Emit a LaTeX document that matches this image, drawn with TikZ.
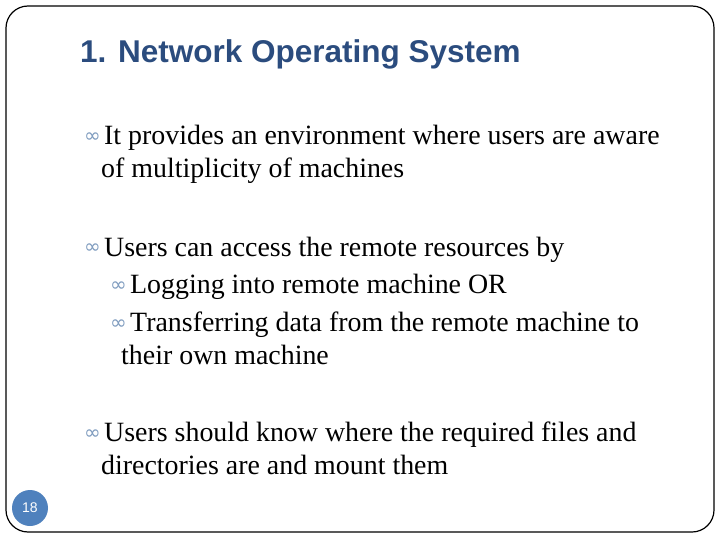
\documentclass[tikz,border=0pt]{standalone}
\usepackage{fontspec}
\setmainfont{Liberation Serif}
\newfontfamily\titlefont{Liberation Sans}
\newfontfamily\symfont{DejaVu Sans}
\definecolor{titleblue}{HTML}{2B4C7E}
\definecolor{bulletblue}{HTML}{7F9CBF}
\definecolor{circblue}{HTML}{4F81BD}
\begin{document}
\begin{tikzpicture}[x=1pt,y=-1pt,
  txt/.style={anchor=base west,inner sep=0pt,font=\fontsize{27.9}{32}\selectfont},
  bul/.style={anchor=base west,inner sep=0pt,text=bulletblue,font=\symfont\fontsize{20}{22}\selectfont}]
\useasboundingbox (0,0) rectangle (720,540);
\fill[white] (0,0) rectangle (720,540);
\draw[line width=1.2pt,rounded corners=22pt] (6,6) -- (6,532) -- (714,532) -- (714,6) -- cycle;
\node[anchor=base west,inner sep=0pt,text=titleblue,font=\titlefont\bfseries\fontsize{31.5}{34}\selectfont] (title) at (80,63) {1. Network Operating System};
\node[bul] (b1) at (84,143) {∞};
\node[txt] (t1) at (104,145) {It provides an environment where users are aware};
\node[txt] (t1b) at (101,178) {of multiplicity of machines};
\node[bul] (b2) at (84,254) {∞};
\node[txt] (t2) at (104,256) {Users can access the remote resources by};
\node[bul] (b3) at (110,291) {∞};
\node[txt] (t3) at (130,293) {Logging into remote machine OR};
\node[bul] (b4) at (110,329) {∞};
\node[txt] (t4) at (130,331) {Transferring data from the remote machine to};
\node[txt] (t4b) at (121,364) {their own machine};
\node[bul] (b5) at (84,439) {∞};
\node[txt] (t5) at (104,441) {Users should know where the required files and};
\node[txt] (t5b) at (101,474) {directories are and mount them};
\node[circle,fill=circblue,minimum size=36pt,inner sep=0pt,text=white,font=\titlefont\fontsize{14}{16}\selectfont] (pg) at (30,508) {18};
\end{tikzpicture}
\end{document}
